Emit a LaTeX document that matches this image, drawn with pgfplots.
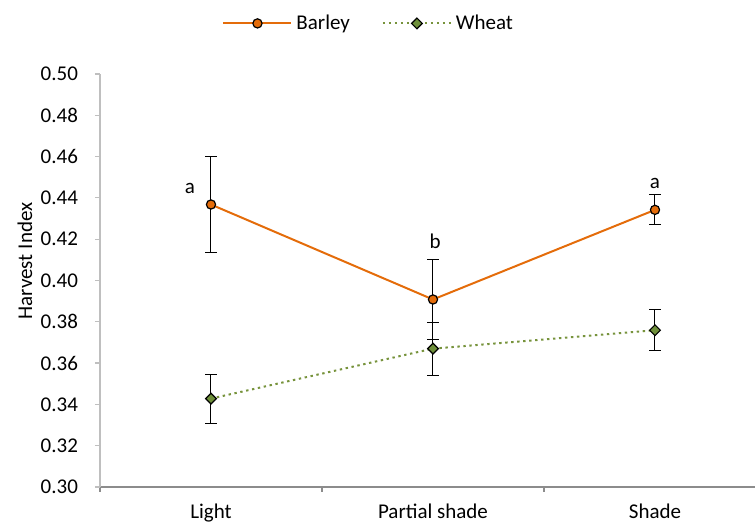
\documentclass[border=0pt]{standalone}
\usepackage{pgfplots}
\pgfplotsset{compat=1.18}
\usepackage{fontspec}
\setmainfont{Carlito}
\definecolor{barley}{HTML}{E46C0A}
\definecolor{wheat}{HTML}{77933C}
\definecolor{wheatfill}{HTML}{6E8F3A}
\definecolor{ygray}{HTML}{BFBFBF}
\definecolor{xgray}{HTML}{8C8C8C}
\newcommand{\cf}{\fontsize{10.5pt}{12pt}\selectfont}
\begin{document}
\begin{tikzpicture}[x=0.5pt,y=0.5pt]
\useasboundingbox (0,0) rectangle (755,522);
\begin{axis}[
  at={(50pt,17.5pt)}, anchor=south west,
  scale only axis, width=333pt, height=206.5pt,
  xmin=-0.5, xmax=2.5, ymin=0.30, ymax=0.50,
  axis x line*=bottom, axis y line*=left,
  x axis line style={-, draw=xgray, line width=0.6pt},
  y axis line style={-, draw=ygray, line width=0.6pt},
  tick align=outside, major tick length=2.5pt,
  xtick={-0.5,0.5,1.5,2.5}, xticklabels={},
  x tick style={draw=xgray, line width=0.6pt},
  y tick style={draw=ygray, line width=0.6pt},
  extra x ticks={0,1,2},
  extra x tick labels={Light,Partial shade,Shade},
  extra x tick style={major tick length=0pt, xticklabel style={yshift=-5pt}},
  ytick={0.30,0.32,0.34,0.36,0.38,0.40,0.42,0.44,0.46,0.48,0.50},
  yticklabel style={/pgf/number format/.cd, fixed, fixed zerofill, precision=2, /tikz/.cd, xshift=-5pt},
  /pgf/number format/assume math mode=true,
  tick label style={font=\cf, black},
  ylabel={Harvest Index},
  ylabel style={font=\cf, at={(axis description cs:-0.1126,0.547)}, anchor=center},
  legend style={at={(0.405,1.1225)}, anchor=center, legend columns=2, draw=none, fill=none, font=\cf,
    /tikz/every even column/.append style={column sep=14pt}},
  legend image code/.code={\draw[mark repeat=2,mark phase=2,#1] plot coordinates {(0pt,0pt)(17pt,0pt)(34pt,0pt)};},
  clip=false,
]
\addplot[barley, line width=1pt, mark=*, mark size=2.3pt,
  mark options={solid, fill=barley, draw=black, line width=0.6pt},
  error bars/.cd, y dir=both, y explicit,
  error bar style={black, line width=0.5pt, solid},
  error mark options={rotate=90, black, mark size=2.8pt, line width=0.5pt}]
  coordinates {(0,0.4368) +- (0,0.0233) (1,0.3908) +- (0,0.0196) (2,0.4342) +- (0,0.0073)};
\addlegendentry{Barley}
\addplot[wheat, line width=1pt, dash pattern=on 1.2pt off 1.8pt, mark=square*, mark size=1.9pt,
  mark options={solid, fill=wheatfill, draw=black, rotate=45, line width=0.6pt},
  error bars/.cd, y dir=both, y explicit,
  error bar style={black, line width=0.5pt, solid},
  error mark options={rotate=90, black, mark size=2.8pt, line width=0.5pt}]
  coordinates {(0,0.3428) +- (0,0.0119) (1,0.3670) +- (0,0.0128) (2,0.3759) +- (0,0.0099)};
\addlegendentry{Wheat}
\node[font=\cf] at (axis cs:-0.095,0.4448) {a};
\node[font=\cf] at (axis cs:1.01,0.4191) {b};
\node[font=\cf] at (axis cs:2,0.4472) {a};
\end{axis}
\end{tikzpicture}
\end{document}
